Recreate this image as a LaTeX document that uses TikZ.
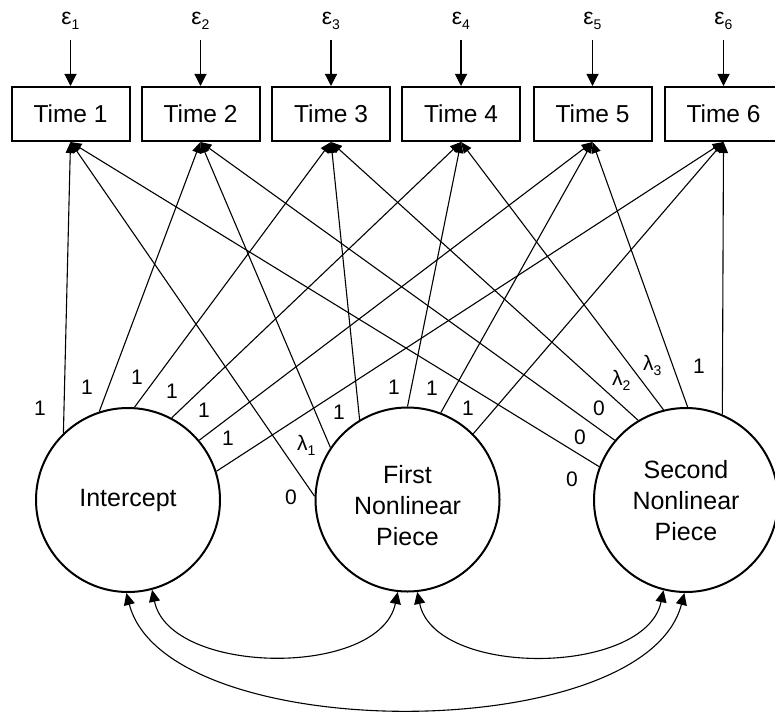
\documentclass[tikz,border=0pt]{standalone}
\usepackage{fontspec}
\setmainfont{Liberation Sans}
\usetikzlibrary{arrows.meta}

% lowered small index for the Greek labels
\newcommand\subidx[1]{\raisebox{-5pt}{\fontsize{14}{14}\selectfont #1}}

\begin{document}
\begin{tikzpicture}[x=1pt,y=-1pt,
  obs/.style={draw,line width=2pt,rectangle,minimum width=118pt,minimum height=54pt,
    inner sep=0pt,font=\fontsize{24.5}{29}\selectfont},
  latent/.style={draw,line width=2pt,circle,minimum size=184pt,inner sep=0pt},
  ltext/.style={align=center,inner sep=0pt,font=\fontsize{25}{31}\selectfont},
  err/.style={anchor=base,inner xsep=0pt,inner ysep=10pt,font=\fontsize{23}{27}\selectfont},
  coef/.style={inner sep=0pt,font=\fontsize{21}{25}\selectfont},
  lam/.style={anchor=base west,inner sep=0pt,font=\fontsize{21}{25}\selectfont},
  load/.style={line width=1.1pt,-{Triangle[length=11pt,width=9pt]}},
  errarrow/.style={line width=1.1pt,-{Triangle[length=12pt,width=12pt]}},
  cov/.style={line width=1.1pt,{Triangle[length=12pt,width=11pt]}-{Triangle[length=12pt,width=11pt]}},
]
\useasboundingbox (0,0) rectangle (775,711);

% observed measures with their residuals
\foreach \i/\x in {1/70.5,2/200.5,3/331,4/461,5/592.5,6/723.5} {
  \node[obs] (t\i) at (\x,114) {Time \i};
  \node[err] (e\i) at (\x,25) {ε\subidx{\i}};
  \draw[errarrow] (e\i.south) -- (t\i.north);
}

% latent growth factors
\node[latent] (I) at (128,500) {};
\node[latent] (F) at (407.5,499.5) {};
\node[latent] (S) at (686,500) {};
\node[ltext] (Itxt) at (128,500) {Intercept};
\node[ltext] (Ftxt) at (407.5,506) {First\\Nonlinear\\Piece};
\node[ltext] (Stxt) at (686,501) {Second\\Nonlinear\\Piece};

% factor loadings
\foreach \a [count=\i] in {134,108,86,62,40,18}
  \draw[load] (I.\a) -- (t\i.south);
\foreach \a [count=\i] in {178,146,121,90,69,45}
  \draw[load] (F.\a) -- (t\i.south);
\foreach \a [count=\i] in {159,140,121,104,89,67}
  \draw[load] (S.\a) -- (t\i.south);

% loading values: intercept
\node[coef] (i1) at (40,408) {1};
\node[coef] (i2) at (87,387) {1};
\node[coef] (i3) at (137,377) {1};
\node[coef] (i4) at (172,391) {1};
\node[coef] (i5) at (204,410) {1};
\node[coef] (i6) at (228,438) {1};
% loading values: first piece
\node[coef] (f1) at (291,497) {0};
\node[lam]  (f2) at (297,450) {λ\subidx{1}};
\node[coef] (f3) at (339,412) {1};
\node[coef] (f4) at (394,387) {1};
\node[coef] (f5) at (432,388) {1};
\node[coef] (f6) at (468,408) {1};
% loading values: second piece
\node[coef] (s1) at (572,479) {0};
\node[coef] (s2) at (580,437) {0};
\node[coef] (s3) at (599,408) {0};
\node[lam]  (s4) at (612,385) {λ\subidx{2}};
\node[lam]  (s5) at (643,370) {λ\subidx{3}};
\node[coef] (s6) at (699,366) {1};

% factor covariances
\draw[cov] (I.-75) .. controls +(18,86) and +(-18,86) .. (F.-96);
\draw[cov] (F.-84) .. controls +(18,86) and +(-18,86) .. (S.-104);
\draw[cov] (I.-91) .. controls +(40,154) and +(-40,154) .. (S.-91);
\end{tikzpicture}
\end{document}
